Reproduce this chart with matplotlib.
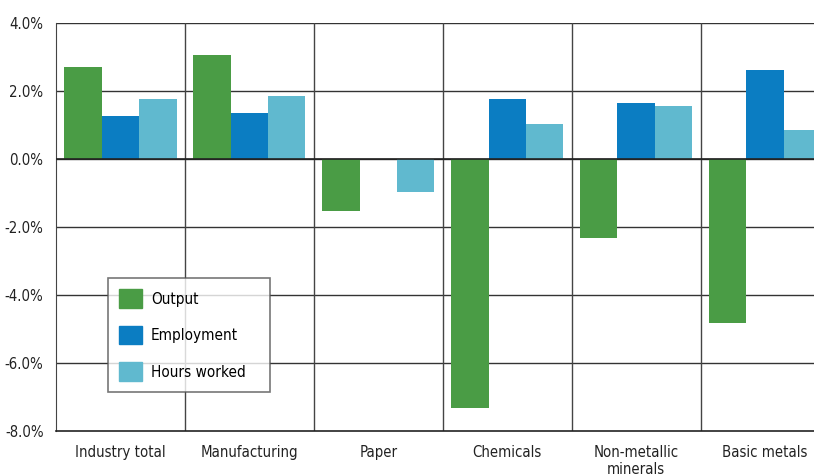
import numpy as np
import matplotlib.pyplot as plt
from matplotlib.patches import Patch

categories = ["Industry total", "Manufacturing", "Paper", "Chemicals", "Non-metallic\nminerals", "Basic metals"]
output = [2.70, 3.06, -1.53, -7.32, -2.32, -4.82]
employment = [1.26, 1.35, 0.0, 1.76, 1.65, 2.63]
hours = [1.77, 1.85, -0.96, 1.03, 1.56, 0.85]

c_out = "#4a9c45"
c_emp = "#0b7dc2"
c_hrs = "#60b9cf"

plt.rcParams['font.family'] = ['DejaVu Sans']
plt.rcParams['font.stretch'] = 'condensed'

fig = plt.figure(figsize=(8.14, 4.74), dpi=100)
ax = fig.add_axes([56/814, 43/474, (829.5-56)/814, 408/474])

x = np.arange(len(categories))
w = 0.29
ax.bar(x - w, output, w, color=c_out, zorder=3)
ax.bar(x, employment, w, color=c_emp, zorder=3)
ax.bar(x + w, hours, w, color=c_hrs, zorder=3)

ax.set_ylim(-8, 4)
ax.set_xlim(-0.5, 5.5)
ticks = np.arange(-8, 4.1, 2)
ax.set_yticks(ticks)
ax.set_yticklabels([f"{v:.1f}%" for v in ticks])
ax.set_xticks(x)
ax.set_xticklabels(categories)
ax.tick_params(length=0, labelsize=10.7, colors="#222")
ax.tick_params(axis="y", pad=9)
ax.tick_params(axis="x", pad=10)

for yv in np.arange(-6, 4.1, 2):
    ax.axhline(yv, color="#333", lw=1, zorder=1)
ax.axhline(0, color="#222", lw=1.2, zorder=4)
for xv in np.arange(0.5, 5, 1):
    ax.axvline(xv, color="#444", lw=1, zorder=1)

for s in ["top", "right"]:
    ax.spines[s].set_visible(False)
ax.spines["left"].set_color("#444")
ax.spines["bottom"].set_color("#222")
ax.spines["bottom"].set_linewidth(1.2)

# legend: extra spaces widen the box like the original
handles = [Patch(color=c_out, label="Output"),
           Patch(color=c_emp, label="Employment"),
           Patch(color=c_hrs, label="Hours worked   ")]
leg = fig.legend(handles=handles, loc="upper left", bbox_to_anchor=(108/814, 1 - 278/474),
                 fontsize=11, frameon=True, fancybox=False, edgecolor="#555",
                 handlelength=1.45, handleheight=1.45, handletextpad=0.6,
                 labelspacing=1.2, borderpad=0.75, borderaxespad=0)
leg.get_frame().set_linewidth(1.2)

fig.savefig("out.png", dpi=100)
